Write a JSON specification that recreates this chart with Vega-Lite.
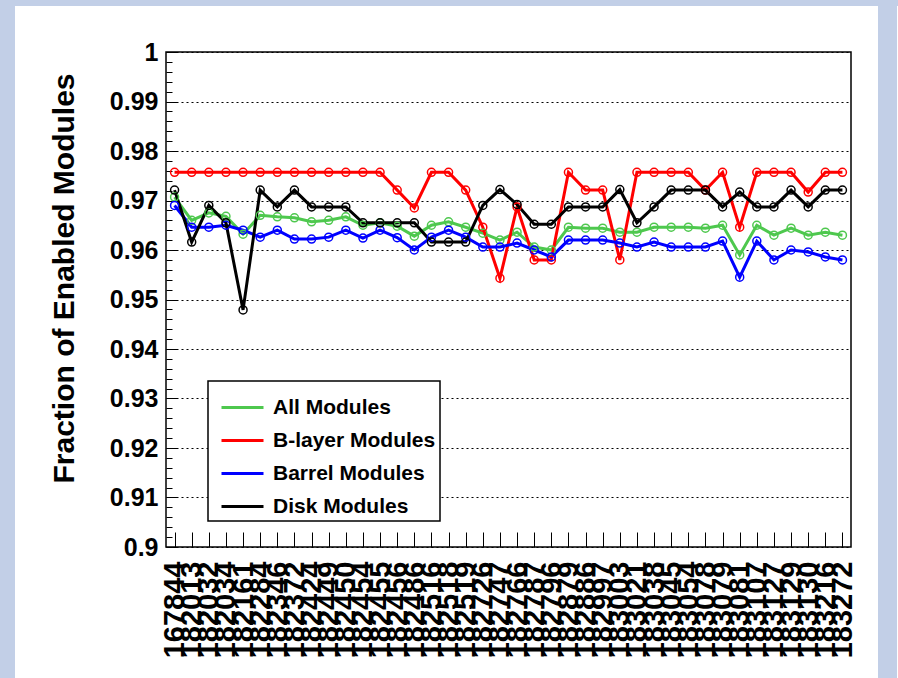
{
  "$schema": "https://vega.github.io/schema/vega-lite/v6.json",
  "padding": 0,
  "background": "white",
  "config": {
    "font": "Liberation Sans",
    "view": {"stroke": null},
    "axis": {"labelColor": "black", "titleColor": "black", "tickColor": "black", "domainColor": "black", "labelFont": "Liberation Sans", "titleFont": "Liberation Sans", "labelFontWeight": "bold", "titleFontWeight": "bold"},
    "legend": {"labelFont": "Liberation Sans", "labelFontWeight": "bold", "labelColor": "black", "strokeWidth": 1.5}
  },
  "spacing": 0,
  "vconcat": [
    {
      "width": 898, "height": 6,
      "data": {"values": []},
      "mark": "point", "encoding": {},
      "view": {"fill": "#c2cfe7", "stroke": null}
    },
    {
      "spacing": 33,
      "hconcat": [
        {
          "width": 15, "height": 672,
          "data": {"values": []},
          "mark": "point", "encoding": {},
          "view": {"fill": "#c2cfe7", "stroke": null}
        },
        {
          "spacing": 19,
          "hconcat": [
            {
              "spacing": 32,
              "vconcat": [
                {
                  "width": 685, "height": 1,
                  "data": {"values": []},
                  "mark": "point", "encoding": {},
                  "view": {"stroke": null}
                },
                {
                  "width": 685, "height": 495,
                  "view": {"stroke": "black", "strokeWidth": 1.5, "fill": "white"},
                  "resolve": {"axis": {"y": "independent"}},
                  "layer": [
                    {
                      "data": {"values": []},
                      "mark": "tick",
                      "encoding": {
                        "y": {
                          "field": "value", "type": "quantitative",
                          "scale": {"domain": [0.9, 1.0], "nice": false, "zero": false},
                          "axis": {"orient": "left", "title": null, "labels": false, "grid": false, "domain": false, "tickSize": -6, "tickWidth": 1,
                            "values": [0.902, 0.904, 0.906, 0.908, 0.912, 0.914, 0.916, 0.918, 0.922, 0.924, 0.926, 0.928, 0.932, 0.934, 0.936, 0.938, 0.942, 0.944, 0.946, 0.948, 0.952, 0.954, 0.956, 0.958, 0.962, 0.964, 0.966, 0.968, 0.972, 0.974, 0.976, 0.978, 0.982, 0.984, 0.986, 0.988, 0.992, 0.994, 0.996, 0.998]}
                        }
                      }
                    },
                    {
                      "data": {"values": [
                        {"run": "167844", "series": "All Modules", "value": 0.9707}, {"run": "167844", "series": "B-layer Modules", "value": 0.9757}, {"run": "167844", "series": "Barrel Modules", "value": 0.9690}, {"run": "167844", "series": "Disk Modules", "value": 0.9721},
                        {"run": "182013", "series": "All Modules", "value": 0.9660}, {"run": "182013", "series": "B-layer Modules", "value": 0.9757}, {"run": "182013", "series": "Barrel Modules", "value": 0.9646}, {"run": "182013", "series": "Disk Modules", "value": 0.9616},
                        {"run": "182032", "series": "All Modules", "value": 0.9675}, {"run": "182032", "series": "B-layer Modules", "value": 0.9757}, {"run": "182032", "series": "Barrel Modules", "value": 0.9646}, {"run": "182032", "series": "Disk Modules", "value": 0.9690},
                        {"run": "182034", "series": "All Modules", "value": 0.9668}, {"run": "182034", "series": "B-layer Modules", "value": 0.9757}, {"run": "182034", "series": "Barrel Modules", "value": 0.9650}, {"run": "182034", "series": "Disk Modules", "value": 0.9655},
                        {"run": "182161", "series": "All Modules", "value": 0.9632}, {"run": "182161", "series": "B-layer Modules", "value": 0.9757}, {"run": "182161", "series": "Barrel Modules", "value": 0.9640}, {"run": "182161", "series": "Disk Modules", "value": 0.9479},
                        {"run": "182284", "series": "All Modules", "value": 0.9670}, {"run": "182284", "series": "B-layer Modules", "value": 0.9757}, {"run": "182284", "series": "Barrel Modules", "value": 0.9626}, {"run": "182284", "series": "Disk Modules", "value": 0.9721},
                        {"run": "182346", "series": "All Modules", "value": 0.9667}, {"run": "182346", "series": "B-layer Modules", "value": 0.9757}, {"run": "182346", "series": "Barrel Modules", "value": 0.9640}, {"run": "182346", "series": "Disk Modules", "value": 0.9687},
                        {"run": "182372", "series": "All Modules", "value": 0.9665}, {"run": "182372", "series": "B-layer Modules", "value": 0.9757}, {"run": "182372", "series": "Barrel Modules", "value": 0.9622}, {"run": "182372", "series": "Disk Modules", "value": 0.9721},
                        {"run": "182424", "series": "All Modules", "value": 0.9657}, {"run": "182424", "series": "B-layer Modules", "value": 0.9757}, {"run": "182424", "series": "Barrel Modules", "value": 0.9622}, {"run": "182424", "series": "Disk Modules", "value": 0.9687},
                        {"run": "182449", "series": "All Modules", "value": 0.9660}, {"run": "182449", "series": "B-layer Modules", "value": 0.9757}, {"run": "182449", "series": "Barrel Modules", "value": 0.9626}, {"run": "182449", "series": "Disk Modules", "value": 0.9687},
                        {"run": "182450", "series": "All Modules", "value": 0.9667}, {"run": "182450", "series": "B-layer Modules", "value": 0.9757}, {"run": "182450", "series": "Barrel Modules", "value": 0.9640}, {"run": "182450", "series": "Disk Modules", "value": 0.9687},
                        {"run": "182454", "series": "All Modules", "value": 0.9650}, {"run": "182454", "series": "B-layer Modules", "value": 0.9757}, {"run": "182454", "series": "Barrel Modules", "value": 0.9624}, {"run": "182454", "series": "Disk Modules", "value": 0.9655},
                        {"run": "182455", "series": "All Modules", "value": 0.9655}, {"run": "182455", "series": "B-layer Modules", "value": 0.9757}, {"run": "182455", "series": "Barrel Modules", "value": 0.9640}, {"run": "182455", "series": "Disk Modules", "value": 0.9655},
                        {"run": "182456", "series": "All Modules", "value": 0.9648}, {"run": "182456", "series": "B-layer Modules", "value": 0.9721}, {"run": "182456", "series": "Barrel Modules", "value": 0.9625}, {"run": "182456", "series": "Disk Modules", "value": 0.9655},
                        {"run": "182486", "series": "All Modules", "value": 0.9628}, {"run": "182486", "series": "B-layer Modules", "value": 0.9685}, {"run": "182486", "series": "Barrel Modules", "value": 0.9600}, {"run": "182486", "series": "Disk Modules", "value": 0.9655},
                        {"run": "182516", "series": "All Modules", "value": 0.9650}, {"run": "182516", "series": "B-layer Modules", "value": 0.9757}, {"run": "182516", "series": "Barrel Modules", "value": 0.9626}, {"run": "182516", "series": "Disk Modules", "value": 0.9616},
                        {"run": "182518", "series": "All Modules", "value": 0.9657}, {"run": "182518", "series": "B-layer Modules", "value": 0.9757}, {"run": "182518", "series": "Barrel Modules", "value": 0.9640}, {"run": "182518", "series": "Disk Modules", "value": 0.9616},
                        {"run": "182519", "series": "All Modules", "value": 0.9646}, {"run": "182519", "series": "B-layer Modules", "value": 0.9721}, {"run": "182519", "series": "Barrel Modules", "value": 0.9626}, {"run": "182519", "series": "Disk Modules", "value": 0.9616},
                        {"run": "182726", "series": "All Modules", "value": 0.9634}, {"run": "182726", "series": "B-layer Modules", "value": 0.9646}, {"run": "182726", "series": "Barrel Modules", "value": 0.9606}, {"run": "182726", "series": "Disk Modules", "value": 0.9690},
                        {"run": "182747", "series": "All Modules", "value": 0.9620}, {"run": "182747", "series": "B-layer Modules", "value": 0.9543}, {"run": "182747", "series": "Barrel Modules", "value": 0.9606}, {"run": "182747", "series": "Disk Modules", "value": 0.9722},
                        {"run": "182766", "series": "All Modules", "value": 0.9636}, {"run": "182766", "series": "B-layer Modules", "value": 0.9687}, {"run": "182766", "series": "Barrel Modules", "value": 0.9614}, {"run": "182766", "series": "Disk Modules", "value": 0.9692},
                        {"run": "182787", "series": "All Modules", "value": 0.9606}, {"run": "182787", "series": "B-layer Modules", "value": 0.9580}, {"run": "182787", "series": "Barrel Modules", "value": 0.9600}, {"run": "182787", "series": "Disk Modules", "value": 0.9652},
                        {"run": "182796", "series": "All Modules", "value": 0.9600}, {"run": "182796", "series": "B-layer Modules", "value": 0.9580}, {"run": "182796", "series": "Barrel Modules", "value": 0.9586}, {"run": "182796", "series": "Disk Modules", "value": 0.9652},
                        {"run": "182879", "series": "All Modules", "value": 0.9646}, {"run": "182879", "series": "B-layer Modules", "value": 0.9757}, {"run": "182879", "series": "Barrel Modules", "value": 0.9620}, {"run": "182879", "series": "Disk Modules", "value": 0.9687},
                        {"run": "182886", "series": "All Modules", "value": 0.9644}, {"run": "182886", "series": "B-layer Modules", "value": 0.9721}, {"run": "182886", "series": "Barrel Modules", "value": 0.9620}, {"run": "182886", "series": "Disk Modules", "value": 0.9687},
                        {"run": "182997", "series": "All Modules", "value": 0.9644}, {"run": "182997", "series": "B-layer Modules", "value": 0.9721}, {"run": "182997", "series": "Barrel Modules", "value": 0.9620}, {"run": "182997", "series": "Disk Modules", "value": 0.9687},
                        {"run": "183003", "series": "All Modules", "value": 0.9636}, {"run": "183003", "series": "B-layer Modules", "value": 0.9580}, {"run": "183003", "series": "Barrel Modules", "value": 0.9614}, {"run": "183003", "series": "Disk Modules", "value": 0.9722},
                        {"run": "183021", "series": "All Modules", "value": 0.9636}, {"run": "183021", "series": "B-layer Modules", "value": 0.9757}, {"run": "183021", "series": "Barrel Modules", "value": 0.9606}, {"run": "183021", "series": "Disk Modules", "value": 0.9655},
                        {"run": "183038", "series": "All Modules", "value": 0.9646}, {"run": "183038", "series": "B-layer Modules", "value": 0.9757}, {"run": "183038", "series": "Barrel Modules", "value": 0.9616}, {"run": "183038", "series": "Disk Modules", "value": 0.9687},
                        {"run": "183045", "series": "All Modules", "value": 0.9646}, {"run": "183045", "series": "B-layer Modules", "value": 0.9757}, {"run": "183045", "series": "Barrel Modules", "value": 0.9606}, {"run": "183045", "series": "Disk Modules", "value": 0.9721},
                        {"run": "183054", "series": "All Modules", "value": 0.9646}, {"run": "183054", "series": "B-layer Modules", "value": 0.9757}, {"run": "183054", "series": "Barrel Modules", "value": 0.9606}, {"run": "183054", "series": "Disk Modules", "value": 0.9721},
                        {"run": "183078", "series": "All Modules", "value": 0.9644}, {"run": "183078", "series": "B-layer Modules", "value": 0.9721}, {"run": "183078", "series": "Barrel Modules", "value": 0.9606}, {"run": "183078", "series": "Disk Modules", "value": 0.9721},
                        {"run": "183079", "series": "All Modules", "value": 0.9650}, {"run": "183079", "series": "B-layer Modules", "value": 0.9757}, {"run": "183079", "series": "Barrel Modules", "value": 0.9618}, {"run": "183079", "series": "Disk Modules", "value": 0.9687},
                        {"run": "183081", "series": "All Modules", "value": 0.9590}, {"run": "183081", "series": "B-layer Modules", "value": 0.9646}, {"run": "183081", "series": "Barrel Modules", "value": 0.9545}, {"run": "183081", "series": "Disk Modules", "value": 0.9717},
                        {"run": "183107", "series": "All Modules", "value": 0.9650}, {"run": "183107", "series": "B-layer Modules", "value": 0.9757}, {"run": "183107", "series": "Barrel Modules", "value": 0.9618}, {"run": "183107", "series": "Disk Modules", "value": 0.9687},
                        {"run": "183127", "series": "All Modules", "value": 0.9630}, {"run": "183127", "series": "B-layer Modules", "value": 0.9757}, {"run": "183127", "series": "Barrel Modules", "value": 0.9580}, {"run": "183127", "series": "Disk Modules", "value": 0.9687},
                        {"run": "183129", "series": "All Modules", "value": 0.9644}, {"run": "183129", "series": "B-layer Modules", "value": 0.9757}, {"run": "183129", "series": "Barrel Modules", "value": 0.9600}, {"run": "183129", "series": "Disk Modules", "value": 0.9721},
                        {"run": "183130", "series": "All Modules", "value": 0.9630}, {"run": "183130", "series": "B-layer Modules", "value": 0.9717}, {"run": "183130", "series": "Barrel Modules", "value": 0.9596}, {"run": "183130", "series": "Disk Modules", "value": 0.9687},
                        {"run": "183216", "series": "All Modules", "value": 0.9636}, {"run": "183216", "series": "B-layer Modules", "value": 0.9757}, {"run": "183216", "series": "Barrel Modules", "value": 0.9586}, {"run": "183216", "series": "Disk Modules", "value": 0.9721},
                        {"run": "183272", "series": "All Modules", "value": 0.9630}, {"run": "183272", "series": "B-layer Modules", "value": 0.9757}, {"run": "183272", "series": "Barrel Modules", "value": 0.9580}, {"run": "183272", "series": "Disk Modules", "value": 0.9721}
                      ]},
                      "mark": {"type": "line", "strokeWidth": 3, "point": {"filled": false, "size": 64, "strokeWidth": 1.5}},
                      "encoding": {
                        "x": {
                          "field": "run", "type": "ordinal", "sort": null,
                          "scale": {"padding": 0.5},
                          "axis": {"title": null, "domain": false, "grid": false, "labelAngle": 270, "labelAlign": "right", "labelBaseline": "middle", "labelFontSize": 29, "labelPadding": 29, "tickSize": -15, "tickWidth": 1, "labelOverlap": false, "labelBound": false}
                        },
                        "y": {
                          "field": "value", "type": "quantitative",
                          "scale": {"domain": [0.9, 1.0], "nice": false, "zero": false},
                          "axis": {"orient": "left", "values": [0.9, 0.91, 0.92, 0.93, 0.94, 0.95, 0.96, 0.97, 0.98, 0.99, 1.0], "format": ".2~f", "domain": false, "labelFontSize": 25, "labelPadding": 19, "tickSize": -11, "tickWidth": 1, "grid": true, "gridColor": "black", "gridDash": [2, 3], "gridWidth": 1, "gridOpacity": 1, "title": "Fraction of Enabled Modules", "titleFontSize": 30, "titlePadding": 30, "titleY": 226}
                        },
                        "color": {
                          "field": "series", "type": "nominal",
                          "scale": {"domain": ["All Modules", "B-layer Modules", "Barrel Modules", "Disk Modules"], "range": ["#4ec84e", "#ff0000", "#0000ff", "#000000"]},
                          "legend": {"title": null, "orient": "none", "legendX": 208, "legendY": 381, "symbolType": "stroke", "symbolSize": 1764, "symbolStrokeWidth": 3, "symbolOffset": 8, "labelFontSize": 21, "labelOffset": 8, "labelLimit": 400, "fillColor": "white", "strokeColor": "black", "padding": 4, "rowPadding": 0}
                        }
                      }
                    }
                  ]
                }
              ]
            },
            {
              "width": 19, "height": 672,
              "data": {"values": []},
              "mark": "point", "encoding": {},
              "view": {"fill": "#c2cfe7", "stroke": null}
            }
          ]
        }
      ]
    }
  ]
}
